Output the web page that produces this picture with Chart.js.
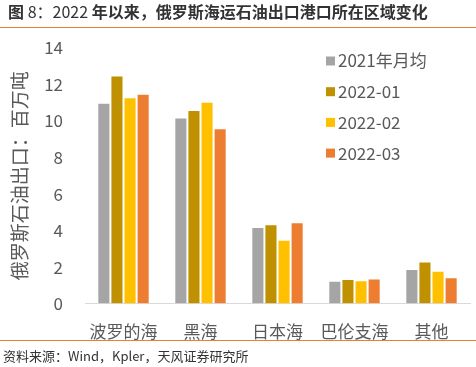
<!DOCTYPE html>
<html>
<head>
<meta charset="utf-8">
<script src="https://cdn.jsdelivr.net/npm/chart.js@4"></script>
<style>
  html, body { margin: 0; padding: 0; background: #fff; }
  #wrap { width: 476px; height: 367px; }
</style>
</head>
<body>
<div id="wrap"><canvas id="chart" width="476" height="367"></canvas></div>
<script>
// data (百万吨)
const regions = ['波罗的海', '黑海', '日本海', '巴伦支海', '其他'];
const avg2021 = [11.0, 10.2, 4.2, 1.25, 1.9];
const jan2022 = [12.5, 10.6, 4.35, 1.35, 2.3];
const feb2022 = [11.3, 11.05, 3.5, 1.28, 1.8];
const mar2022 = [11.5, 9.6, 4.45, 1.37, 1.45];
const seriesNames = ['2021年月均', '2022-01', '2022-02', '2022-03'];
const seriesColors = ['#A5A5A5', '#BF9000', '#FFC000', '#ED7D31'];

const FONT = '"Noto Sans CJK SC", "Noto Sans", sans-serif';
const TXT = '#595959';

// title, source lines, legend
const frame = {
    id: 'frame',
    beforeDraw(chart) {
        const ctx = chart.ctx;
        ctx.save();
        ctx.fillStyle = '#fff';
        ctx.fillRect(0, 0, chart.width, chart.height);
        ctx.restore();
    },
    afterDraw(chart) {
        const ctx = chart.ctx;
        ctx.save();
        // title
        let parts = [['图 ', 'bold'], ['8：2022', 'normal'], [' 年以来，俄罗斯海运石油出口港口所在区域变化', 'bold']];
        let x = 8;
        ctx.textBaseline = 'middle';
        ctx.fillStyle = '#333';
        parts.forEach(p => {
            ctx.font = p[1] + ' 16px ' + FONT;
            ctx.fillText(p[0], x, 12);
            x += ctx.measureText(p[0]).width;
        });
        ctx.strokeStyle = '#E8822E';
        ctx.lineWidth = 1;
        ctx.beginPath();
        ctx.moveTo(0, 27.5); ctx.lineTo(chart.width, 27.5);
        ctx.moveTo(0, 340.5); ctx.lineTo(chart.width, 340.5);
        ctx.stroke();
        // source
        ctx.font = '13px ' + FONT;
        ctx.fillStyle = '#333';
        ctx.fillText('资料来源：Wind，Kpler，天风证券研究所', 3, 356);
        // legend
        ctx.font = '17px ' + FONT;
        chart.data.datasets.forEach((ds, i) => {
            const y = 61 + i * 30.7;
            ctx.fillStyle = ds.backgroundColor;
            ctx.fillRect(326, y - 4.5, 9, 9);
            ctx.fillStyle = TXT;
            ctx.fillText(ds.label, 338, y);
        });
        ctx.restore();
    }
};

const sets = [avg2021, jan2022, feb2022, mar2022].map((d, i) => ({
    label: seriesNames[i],
    data: d,
    backgroundColor: seriesColors[i],
    borderColor: '#fff',
    borderWidth: 1,
    categoryPercentage: 0.68,
    barPercentage: 1
}));

new Chart(document.getElementById('chart'), {
    type: 'bar',
    data: { labels: regions, datasets: sets },
    plugins: [frame],
    options: {
        responsive: false,
        animation: false,
        layout: { padding: { top: 48, left: 8, right: 6, bottom: 15 } },
        plugins: {
            legend: { display: false },
            tooltip: { enabled: false }
        },
        scales: {
            x: {
                grid: { display: false },
                border: { display: true, color: '#D9D9D9', width: 1 },
                ticks: { color: TXT, font: { family: FONT, size: 17 }, padding: 10 }
            },
            y: {
                min: 0,
                max: 14,
                afterFit: s => { s.width = 77; },
                grid: { display: false },
                border: { display: false },
                ticks: { stepSize: 2, color: TXT, font: { family: FONT, size: 17 }, padding: 14 },
                title: {
                    display: true,
                    text: '俄罗斯石油出口：百万吨',
                    color: TXT,
                    font: { family: FONT, size: 19 },
                    padding: 0
                }
            }
        }
    }
});
</script>
</body>
</html>
